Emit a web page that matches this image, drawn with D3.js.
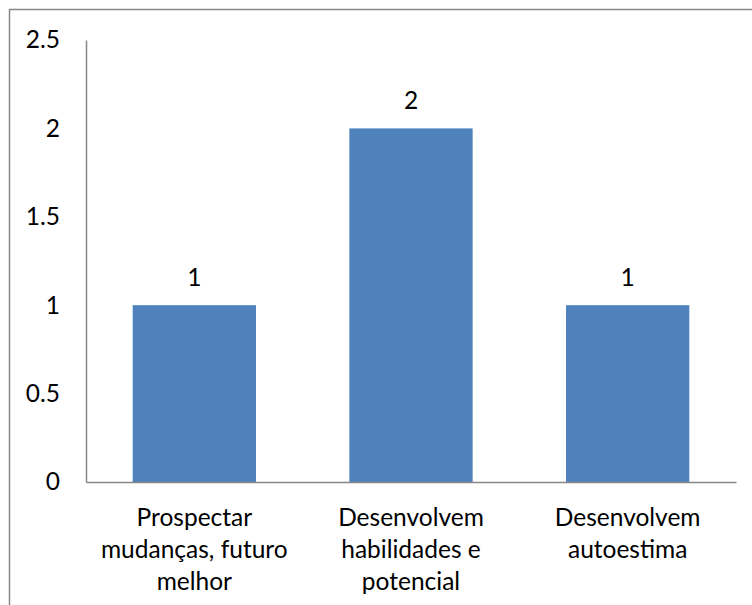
<!DOCTYPE html>
<html>
<head>
<meta charset="utf-8">
<script src="https://cdn.jsdelivr.net/npm/d3@7"></script>
<style>
  html, body { margin: 0; padding: 0; background: #fff; }
  svg { display: block; }
  text { font-family: Lato, "Open Sans", sans-serif; fill: #000; }
</style>
</head>
<body>
<svg id="chart" width="752" height="605"></svg>
<script>
// Chart data
const categories = [
  ["Prospectar", "mudanças, futuro", "melhor"],
  ["Desenvolvem", "habilidades e", "potencial"],
  ["Desenvolvem", "autoestima"]
];
const values = [1, 2, 1];
const yTicks = [0, 0.5, 1, 1.5, 2, 2.5];

const svg = d3.select("#chart");
const W = 752, H = 605;
const plot = { left: 86, right: 736, top: 40, bottom: 482 };
const fontSize = 24.5;

// Outer chart frame (extends past the window on the right and bottom)
svg.append("rect")
  .attr("x", 9.5).attr("y", 9.5)
  .attr("width", W + 20).attr("height", H + 20)
  .attr("fill", "#fff")
  .attr("stroke", "#888").attr("stroke-width", 1.5);

const x = d3.scaleBand()
  .domain(d3.range(values.length))
  .range([plot.left, plot.right])
  .paddingInner(0.431)
  .paddingOuter(0.2155);

const y = d3.scaleLinear()
  .domain([0, 2.5])
  .range([plot.bottom, plot.top]);

// Bars
svg.append("g").selectAll("rect")
  .data(values)
  .join("rect")
  .attr("x", (d, i) => x(i))
  .attr("y", d => y(d))
  .attr("width", x.bandwidth())
  .attr("height", d => y(0) - y(d))
  .attr("fill", "#4f81bd");

// Y axis
const yAxis = svg.append("g")
  .attr("transform", `translate(${plot.left},0)`)
  .call(d3.axisLeft(y).tickValues(yTicks).tickSize(0).tickPadding(26)
    .tickFormat(d => String(d)));
yAxis.select(".domain").attr("stroke", "#868686").attr("stroke-width", 1.5);
yAxis.selectAll("text")
  .style("font-family", "Lato, 'Open Sans', sans-serif")
  .style("font-size", fontSize + "px")
  .attr("fill", "#000");

// X axis line
const xAxis = svg.append("g")
  .attr("transform", `translate(0,${plot.bottom})`)
  .call(d3.axisBottom(x).tickSize(0).tickFormat(""));
xAxis.select(".domain").attr("stroke", "#868686").attr("stroke-width", 1.5);

// Category labels (multi-line)
const lineH = 32;
svg.append("g").selectAll("text")
  .data(categories)
  .join("text")
  .attr("text-anchor", "middle")
  .style("font-size", fontSize + "px")
  .each(function(lines, i) {
    const t = d3.select(this);
    lines.forEach((ln, k) => {
      t.append("tspan")
        .attr("x", x(i) + x.bandwidth() / 2)
        .attr("y", 526 + k * lineH)
        .text(ln);
    });
  });

// Value labels
svg.append("g").selectAll("text")
  .data(values)
  .join("text")
  .attr("text-anchor", "middle")
  .attr("x", (d, i) => x(i) + x.bandwidth() / 2)
  .attr("y", d => y(d) - 19)
  .style("font-size", fontSize + "px")
  .text(d => d);
</script>
</body>
</html>
